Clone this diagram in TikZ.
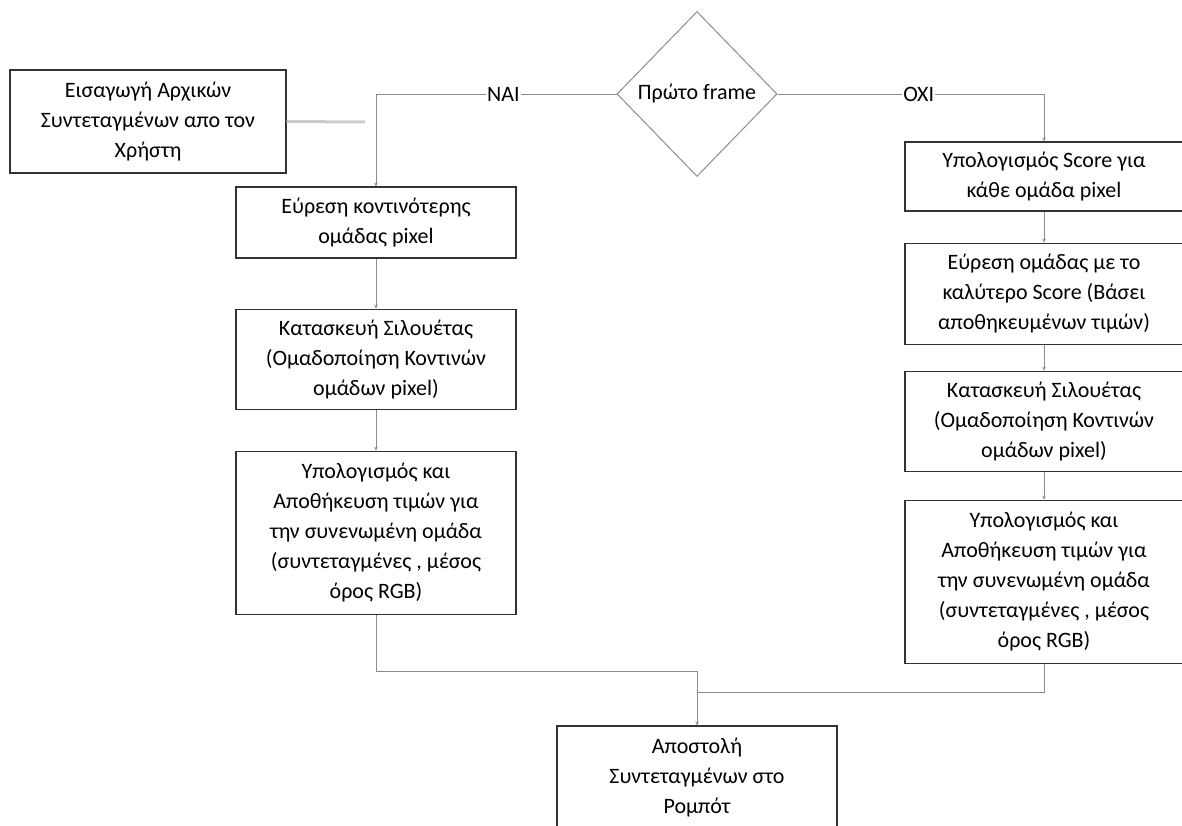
\documentclass[tikz,border=0pt]{standalone}
\usepackage{fontspec}
\setmainfont{Carlito}
\usetikzlibrary{positioning,shapes.geometric,arrows.meta}

\begin{document}
\begin{tikzpicture}[
  x=1pt, y=-1pt,
  every node/.style={font=\fontsize{22}{30}\selectfont, align=center},
  stepbox/.style={draw=black!80, line width=1.1pt, minimum width=278pt, inner sep=0pt},
  decision/.style={diamond, draw=black!45, line width=1pt, minimum width=160pt, minimum height=165pt, inner sep=0pt},
  flow/.style={-{Stealth[length=4pt,width=3.5pt]}, draw=black!45, line width=0.8pt},
  mergeline/.style={draw=black!45, line width=0.8pt},
  answer/.style={fill=white, inner sep=1pt}
]
\useasboundingbox (0,0) rectangle (1182,825);

\node[stepbox, minimum width=276pt, minimum height=103pt] (input) at (148,121.5) {Εισαγωγή Αρχικών\\Συντεταγμένων απο τον\\Χρήστη};
\node[decision] (first) at (697,94) {Πρώτο frame};

% left branch (first frame)
\node[stepbox, minimum width=280pt, minimum height=71pt] (nearest) at (376,222.5) {Εύρεση κοντινότερης\\ομάδας pixel};
\node[stepbox, minimum width=280pt, minimum height=100pt, below=50pt of nearest] (silA) {Κατασκευή Σιλουέτας\\(Ομαδοποίηση Κοντινών\\ομάδων pixel)};
\node[stepbox, minimum width=280pt, minimum height=163pt, below=41pt of silA] (storeA) {Υπολογισμός και\\Αποθήκευση τιμών για\\την συνενωμένη ομάδα\\(συντεταγμένες , μέσος\\όρος RGB)};

% right branch (next frames)
\node[stepbox, minimum height=69pt] (score) at (1044,176.5) {Υπολογισμός Score για\\κάθε ομάδα pixel};
\node[stepbox, minimum height=101pt, below=31pt of score] (best) {Εύρεση ομάδας με το\\καλύτερο Score (Βάσει\\αποθηκευμένων τιμών)};
\node[stepbox, minimum height=100pt, below=26pt of best] (silB) {Κατασκευή Σιλουέτας\\(Ομαδοποίηση Κοντινών\\ομάδων pixel)};
\node[stepbox, minimum height=163pt, below=28pt of silB] (storeB) {Υπολογισμός και\\Αποθήκευση τιμών για\\την συνενωμένη ομάδα\\(συντεταγμένες , μέσος\\όρος RGB)};

\node[stepbox, minimum width=280pt, minimum height=103pt] (robot) at (697,777.5) {Αποστολή\\Συντεταγμένων στο\\Ρομπότ};

\coordinate (inend) at (365,122);
\coordinate (merge) at (697,692);

\draw[draw=black!20, line width=3pt] (input.east) -- (inend);
\draw[flow] (first.west) -- node[answer, pos=0.47] {ΝΑΙ} (nearest.north |- first.west) -- (nearest.north);
\draw[flow] (first.east) -- node[answer, pos=0.53] {ΟΧΙ} (score.north |- first.east) -- (score.north);
\draw[flow] (nearest) -- (silA);
\draw[flow] (silA) -- (storeA);
\draw[flow] (score) -- (best);
\draw[flow] (best) -- (silB);
\draw[flow] (silB) -- (storeB);
\draw[flow] (storeA.south) -- ++(0,57) -| (robot.north);
\draw[mergeline] (storeB.south) |- (merge);
\end{tikzpicture}
\end{document}
